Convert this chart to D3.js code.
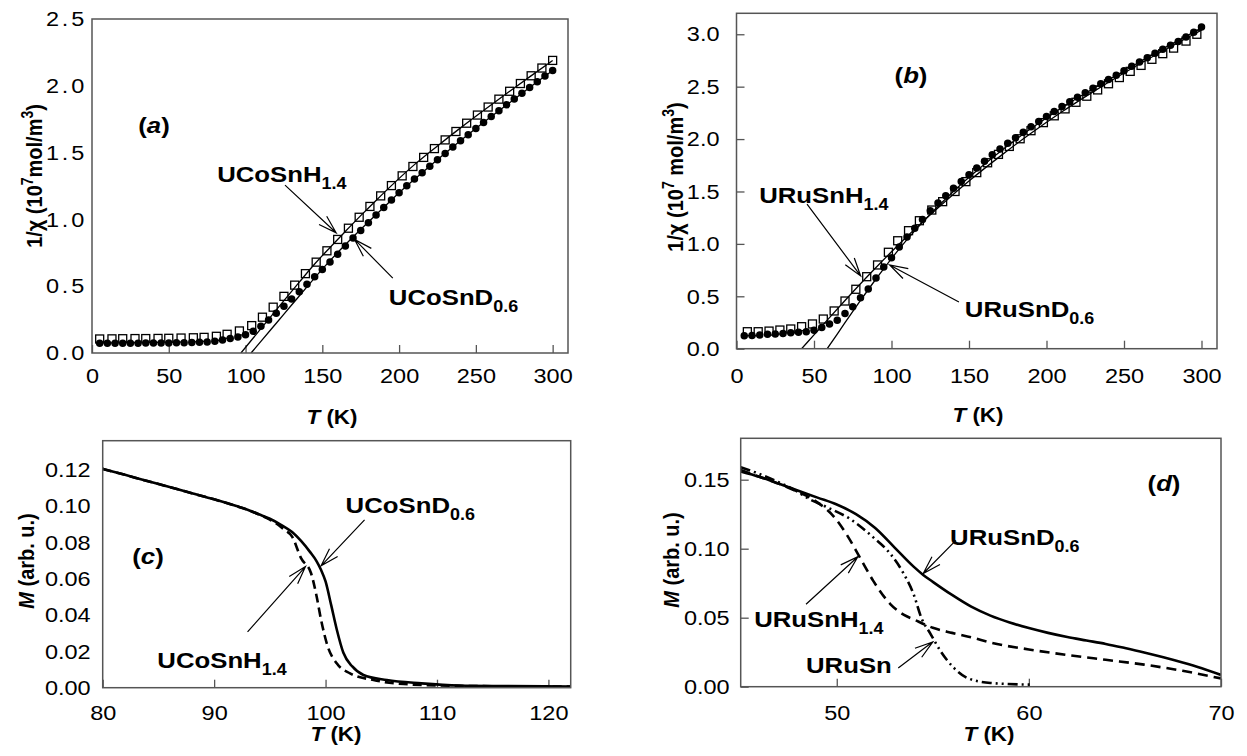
<!DOCTYPE html>
<html>
<head>
<meta charset="utf-8">
<script src="https://cdn.jsdelivr.net/npm/d3@7"></script>
<style>
  body { margin: 0; background: #fff; }
  svg { display: block; }
</style>
</head>
<body>
<div id="chart"></div>
<script>
// ---- panel (a): 1/chi vs T, UCoSn hydride / deuteride ----
const aTempH = [5,13,20,28,35,43,50,58,66,73,81,88,96,104,111,118,125,132,139,146,153,160,167,174,181,188,195,202,209,216,223,230,237,244,251,258,265,272,279,286,293,300];
const aInvChiH = [0.105,0.106,0.107,0.108,0.108,0.109,0.11,0.112,0.114,0.117,0.125,0.14,0.165,0.205,0.268,0.343,0.424,0.508,0.594,0.68,0.765,0.85,0.934,1.016,1.097,1.176,1.253,1.326,1.396,1.464,1.53,1.595,1.658,1.72,1.781,1.841,1.9,1.959,2.017,2.075,2.133,2.19];
const aTempD = [5,10,15,20,25,30,35,40,45,50,55,60,65,70,75,80,85,90,95,100,105,110,115,120,125,130,135,140,145,150,155,160,165,170,175,180,185,190,195,200,205,210,215,220,225,230,235,240,245,250,255,260,265,270,275,280,285,290,295,300];
const aInvChiD = [0.073,0.073,0.073,0.073,0.073,0.073,0.074,0.074,0.074,0.075,0.076,0.077,0.078,0.08,0.083,0.088,0.097,0.108,0.12,0.137,0.162,0.2,0.247,0.298,0.35,0.405,0.459,0.515,0.57,0.625,0.682,0.74,0.8,0.86,0.917,0.974,1.033,1.09,1.146,1.2,1.252,1.302,1.35,1.398,1.446,1.494,1.541,1.588,1.634,1.68,1.725,1.77,1.814,1.858,1.901,1.944,1.987,2.03,2.073,2.115];
const aFitHT = [97,105,115,125,135,145,155,165,175,185,195,210,225,240,255,270,285,300];
const aFitHV = [0,0.112,0.252,0.392,0.53,0.666,0.79,0.91,1.028,1.142,1.253,1.41,1.55,1.685,1.815,1.942,2.067,2.19];
const aFitDT = [103.6,110,120,130,140,150,160,170,180,190,200,215,230,245,260,275,290,300];
const aFitDV = [0,0.087,0.223,0.359,0.495,0.628,0.752,0.868,0.98,1.09,1.2,1.35,1.495,1.635,1.77,1.9,2.03,2.115];

// ---- panel (b): 1/chi vs T, URuSn hydride / deuteride ----
const bTempH = [7,14,21,28,35,42,49,56,63,70,77,84,91,98,104,111,118,126,133,141,148,155,162,169,176,183,190,198,205,212,219,226,233,240,247,254,261,268,275,282,290,297];
const bInvChiH = [0.162,0.162,0.168,0.178,0.188,0.21,0.236,0.283,0.36,0.455,0.567,0.687,0.799,0.92,1.03,1.126,1.221,1.323,1.403,1.5,1.594,1.68,1.774,1.854,1.93,2.003,2.08,2.157,2.222,2.288,2.351,2.409,2.469,2.528,2.587,2.646,2.703,2.761,2.815,2.868,2.935,3.0];
const bTempD = [5,10,15,20,25,30,35,40,45,50,55,60,65,70,75,80,85,90,95,100,105,110,115,120,125,130,135,140,145,150,155,160,165,170,175,180,185,190,195,200,205,210,215,220,225,230,235,240,245,250,255,260,265,270,275,280,285,290,295,300];
const bInvChiD = [0.124,0.126,0.131,0.137,0.14,0.146,0.152,0.156,0.162,0.176,0.202,0.235,0.272,0.335,0.4,0.485,0.57,0.675,0.78,0.868,0.97,1.065,1.15,1.232,1.315,1.39,1.46,1.53,1.595,1.66,1.724,1.788,1.85,1.905,1.96,2.012,2.065,2.118,2.168,2.215,2.262,2.31,2.355,2.4,2.442,2.485,2.527,2.568,2.61,2.652,2.694,2.735,2.776,2.818,2.856,2.894,2.932,2.975,3.02,3.07];
const bFitHT = [42,50,60,70,80,90,100,110,120,135,150,170,190,210,230,250,270,290,300];
const bFitHV = [0,0.132,0.297,0.46,0.62,0.775,0.925,1.07,1.21,1.41,1.6,1.835,2.055,2.26,2.45,2.63,2.8,2.96,3.04];
const bFitDT = [58.5,65,70,80,90,100,110,120,135,150,170,190,210,230,250,270,290,300];
const bFitDV = [0,0.14,0.248,0.46,0.665,0.86,1.04,1.205,1.43,1.635,1.88,2.1,2.3,2.48,2.65,2.82,2.98,3.06];

// ---- panel (c): M vs T, UCoSn compounds ----
const cTempD = [80,82,84,86,88,90,92,93,94,95,96,97,97.8,98.6,99.2,99.6,100,100.5,101,101.6,102.4,103.4,105.5,108.6,112,116,122];
const cMagD = [0.1205,0.1172,0.1138,0.1105,0.1071,0.1037,0.1,0.098,0.0955,0.093,0.0897,0.0857,0.0808,0.0748,0.0696,0.0648,0.0585,0.0456,0.0322,0.0192,0.0117,0.007,0.0042,0.0024,0.0012,0.0009,0.0007];
const cTempH = [80,82,84,86,88,90,92,93,94,95,95.8,96.3,97,97.8,98.7,99.2,99.6,100.2,101,102.2,104.3,107,112,122];
const cMagH = [0.1205,0.1172,0.1138,0.1105,0.1071,0.1037,0.1,0.098,0.0955,0.0925,0.0895,0.087,0.0832,0.0713,0.063,0.0502,0.0373,0.0226,0.0134,0.0079,0.0042,0.002,0.001,0.0006];

// ---- panel (d): M vs T, URuSn compounds ----
const dTempD = [45,46,47,48,49,50,51,52,53,54,54.5,55,56,57,58,59,60,61,62,63,64,65,66,67,68,69,70];
const dMagD = [0.156,0.152,0.147,0.142,0.137,0.132,0.125,0.115,0.101,0.087,0.081,0.076,0.0665,0.058,0.0515,0.0465,0.0425,0.039,0.036,0.0335,0.031,0.028,0.0248,0.0213,0.0175,0.0133,0.0085];
const dTempH = [45,46,47,48,48.6,49.1,49.8,50.5,51.2,51.9,52.8,53.5,54,55,56,57.1,58,60,62,64,66,68,70];
const dMagH = [0.157,0.152,0.147,0.141,0.137,0.1325,0.124,0.1106,0.0937,0.0767,0.0597,0.052,0.0488,0.0427,0.039,0.0354,0.032,0.027,0.023,0.0195,0.016,0.0115,0.006];
const dTempPure = [45,46,47,48,48.4,49.5,50.7,51.9,52.8,53.5,54,54.4,54.9,55.4,56.1,56.8,58,60.1];
const dMagPure = [0.159,0.154,0.148,0.141,0.1373,0.13,0.1215,0.1082,0.0961,0.0815,0.067,0.05,0.0378,0.0258,0.0136,0.0063,0.0027,0.0015];

// annotation anchors in data units: [textT, textV, tailT, tailV, tipT, tipV]
const aNotes = [
  { name: 'UCoSnH', sub: '1.4', at: [81.5, 1.28, 125.7, 1.257, 159, 0.9] },
  { name: 'UCoSnD', sub: '0.6', at: [193.3, 0.36, 195.9, 0.561, 171, 0.85] }
];
const bNotes = [
  { name: 'URuSnH', sub: '1.4', at: [14.6, 1.39, 45.5, 1.38, 80.1, 0.694] },
  { name: 'URuSnD', sub: '0.6', at: [147.3, 0.30, 143.5, 0.445, 98.8, 0.799] }
];
const cNotes = [
  { name: 'UCoSnD', sub: '0.6', at: [101.8, 0.0963, 103.5, 0.0924, 99.6, 0.0671] },
  { name: 'UCoSnH', sub: '1.4', at: [84.9, 0.0109, 93, 0.0307, 98.2, 0.0667] }
];
const dNotes = [
  { name: 'URuSnD', sub: '0.6', at: [55.9, 0.103, 56.2, 0.106, 54.5, 0.082] },
  { name: 'URuSnH', sub: '1.4', at: [45.7, 0.0434, 48.4, 0.0597, 51.1, 0.0942] },
  { name: 'URuSn', sub: '', at: [48.4, 0.01, 53.2, 0.0136, 55, 0.0325] }
];

const FONT = 'Arial, "Liberation Sans", sans-serif';
const AXIS = '#555';
const SX = 1.12; // the original figure is slightly stretched horizontally

const svg = d3.select('#chart').append('svg')
  .attr('width', 1247)
  .attr('height', 756)
  .style('font-family', FONT);

function zip(xs, ys) {
  return xs.map((t, i) => [t, ys[i]]);
}

function stretched(g, px, py) {
  return g.append('text')
    .attr('transform', `translate(${px},${py}) scale(${SX},1)`)
    .attr('fill', '#000');
}

function drawPanel(p) {
  const x = d3.scaleLinear().domain(p.xDomain).range([p.left, p.right]);
  const y = d3.scaleLinear().domain(p.yDomain).range([p.bottom, p.top]);
  const g = svg.append('g');

  // x axis, ticks point into the plot
  const xa = g.append('g')
    .attr('transform', `translate(0,${p.bottom})`)
    .call(d3.axisBottom(x).tickValues(p.xTicks).tickSizeInner(-8).tickSizeOuter(0).tickPadding(p.xPad).tickFormat(d3.format('d')));
  xa.select('.domain').remove();
  xa.selectAll('line').attr('stroke', AXIS).attr('stroke-width', 1.3);
  xa.selectAll('text')
    .attr('font-size', 21).attr('font-family', FONT).attr('fill', '#000')
    .attr('transform', `scale(${SX},1)`);

  // y axis
  const ya = g.append('g')
    .attr('transform', `translate(${p.left},0)`)
    .call(d3.axisLeft(y).tickValues(p.yTicks).tickSizeInner(p.yTickIn ? -8 : 0).tickSizeOuter(0).tickFormat(d3.format(p.yFormat)));
  ya.select('.domain').remove();
  ya.selectAll('line').attr('stroke', AXIS).attr('stroke-width', 1.3);
  ya.selectAll('text')
    .attr('font-size', 21).attr('font-family', FONT).attr('fill', '#000')
    .attr('x', -p.yGap / SX)
    .attr('letter-spacing', p.ySpacing || 0)
    .attr('transform', `scale(${SX},1)`);

  const clipId = 'clip-' + p.id;
  g.append('clipPath').attr('id', clipId)
    .append('rect')
    .attr('x', p.left).attr('y', p.top)
    .attr('width', p.right - p.left).attr('height', p.bottom - p.top);

  const plot = g.append('g').attr('clip-path', `url(#${clipId})`);
  const line = d3.line().x(d => x(d[0])).y(d => y(d[1])).curve(d3.curveMonotoneX);

  (p.markers || []).forEach(s => {
    const pts = zip(s.t, s.v);
    if (s.shape === 'square') {
      plot.selectAll(null).data(pts).enter().append('rect')
        .attr('x', d => x(d[0]) - s.size / 2)
        .attr('y', d => y(d[1]) - s.size / 2)
        .attr('width', s.size).attr('height', s.size)
        .attr('fill', '#fff').attr('stroke', '#000').attr('stroke-width', 1.3);
    } else {
      plot.selectAll(null).data(pts).enter().append('circle')
        .attr('cx', d => x(d[0])).attr('cy', d => y(d[1]))
        .attr('r', s.size / 2)
        .attr('fill', '#000');
    }
  });

  (p.curves || []).forEach(c => {
    plot.append('path')
      .datum(zip(c.t, c.v))
      .attr('d', line)
      .attr('fill', 'none')
      .attr('stroke', '#000')
      .attr('stroke-width', c.width)
      .attr('stroke-dasharray', c.dash || null)
      .attr('stroke-linejoin', 'round');
  });

  // frame
  g.append('rect')
    .attr('x', p.left).attr('y', p.top)
    .attr('width', p.right - p.left).attr('height', p.bottom - p.top)
    .attr('fill', 'none').attr('stroke', AXIS).attr('stroke-width', 1.5);

  // annotations: label, leader line and open arrow head
  p.notes.forEach(n => {
    const [tt, tv, at, av, pt, pv] = n.at;
    const t = stretched(g, x(tt), y(tv))
      .attr('font-size', 23).attr('font-weight', 'bold');
    t.append('tspan').text(n.name);
    if (n.sub) t.append('tspan').attr('font-size', 16).attr('dy', 7).text(n.sub);

    const x0 = x(at), y0 = y(av), x1 = x(pt), y1 = y(pv);
    const ang = Math.atan2(y0 - y1, x0 - x1);
    const len = 19, spread = 0.3;
    const w1 = [x1 + len * Math.cos(ang + spread), y1 + len * Math.sin(ang + spread)];
    const w2 = [x1 + len * Math.cos(ang - spread), y1 + len * Math.sin(ang - spread)];
    g.append('path')
      .attr('d', `M${x0},${y0}L${x1},${y1}M${w1[0]},${w1[1]}L${x1},${y1}L${w2[0]},${w2[1]}`)
      .attr('fill', 'none').attr('stroke', '#000').attr('stroke-width', 1.2);
  });

  // panel letter
  const lt = stretched(g, p.letterPos[0], p.letterPos[1])
    .attr('font-size', 23).attr('font-weight', 'bold').attr('text-anchor', 'middle');
  lt.append('tspan').text('(');
  lt.append('tspan').attr('font-style', 'italic').text(p.letter);
  lt.append('tspan').text(')');

  // x axis title
  const xt = stretched(g, p.xTitlePos[0], p.xTitlePos[1])
    .attr('font-size', 20).attr('font-weight', 'bold').attr('text-anchor', 'middle');
  xt.append('tspan').attr('font-style', 'italic').text('T');
  xt.append('tspan').text(' (K)');

  // y axis title, rotated
  const yt = g.append('text')
    .attr('transform', `translate(${p.yTitlePos[0]},${p.yTitlePos[1]}) scale(${SX},1) rotate(-90)`)
    .attr('font-size', 20).attr('font-weight', 'bold').attr('text-anchor', 'middle')
    .attr('dy', '0.35em').attr('fill', '#000');
  p.yTitle(yt);
}

function chiTitle(spaced) {
  return yt => {
    yt.append('tspan').text('1/χ ' + (spaced ? '' : ' ') + '(10');
    yt.append('tspan').attr('font-size', 14).attr('dy', -8).text('7');
    yt.append('tspan').attr('dy', 8).text(spaced ? ' mol/m' : 'mol/m');
    yt.append('tspan').attr('font-size', 14).attr('dy', -8).text('3');
    yt.append('tspan').attr('dy', 8).text(')');
  };
}

function magTitle(yt) {
  yt.append('tspan').attr('font-style', 'italic').text('M');
  yt.append('tspan').text(' (arb. u.)');
}

drawPanel({
  id: 'a', left: 92, top: 19, right: 568, bottom: 353,
  xDomain: [0, 310], yDomain: [0, 2.5],
  xTicks: [0, 50, 100, 150, 200, 250, 300], yTicks: [0, 0.5, 1, 1.5, 2, 2.5],
  yFormat: '.1f', xPad: 15, yGap: 5, ySpacing: 2.5, yTickIn: false,
  markers: [
    { shape: 'square', t: aTempH, v: aInvChiH, size: 8 },
    { shape: 'circle', t: aTempD, v: aInvChiD, size: 7.5 }
  ],
  curves: [
    { t: aFitHT, v: aFitHV, width: 1.3 },
    { t: aFitDT, v: aFitDV, width: 1.3 }
  ],
  notes: aNotes,
  letter: 'a', letterPos: [154, 133],
  xTitlePos: [332, 424],
  yTitlePos: [34, 176], yTitle: chiTitle(false)
});

drawPanel({
  id: 'b', left: 736.5, top: 13.3, right: 1217, bottom: 348.7,
  xDomain: [0, 310], yDomain: [0, 3.2],
  xTicks: [0, 50, 100, 150, 200, 250, 300], yTicks: [0, 0.5, 1, 1.5, 2, 2.5, 3],
  yFormat: '.1f', xPad: 19, yGap: 17, yTickIn: true,
  markers: [
    { shape: 'square', t: bTempH, v: bInvChiH, size: 8 },
    { shape: 'circle', t: bTempD, v: bInvChiD, size: 7.5 }
  ],
  curves: [
    { t: bFitHT, v: bFitHV, width: 1.3 },
    { t: bFitDT, v: bFitDV, width: 1.3 }
  ],
  notes: bNotes,
  letter: 'b', letterPos: [911, 83],
  xTitlePos: [978, 422],
  yTitlePos: [675, 177], yTitle: chiTitle(true)
});

drawPanel({
  id: 'c', left: 102.7, top: 440.7, right: 570.7, bottom: 687.7,
  xDomain: [80, 122], yDomain: [0, 0.136],
  xTicks: [80, 90, 100, 110, 120], yTicks: [0, 0.02, 0.04, 0.06, 0.08, 0.1, 0.12],
  yFormat: '.2f', xPad: 17, yGap: 12, yTickIn: false,
  curves: [
    { t: cTempD, v: cMagD, width: 2.6 },
    { t: cTempH, v: cMagH, width: 2.6, dash: '9,5' }
  ],
  notes: cNotes,
  letter: 'c', letterPos: [148, 564],
  xTitlePos: [336, 741],
  yTitlePos: [26, 561], yTitle: magTitle
});

drawPanel({
  id: 'd', left: 740.7, top: 438.3, right: 1221, bottom: 686.7,
  xDomain: [45, 70], yDomain: [0, 0.18],
  xTicks: [50, 60, 70], yTicks: [0, 0.05, 0.1, 0.15],
  yFormat: '.2f', xPad: 18, yGap: 11, yTickIn: true,
  curves: [
    { t: dTempD, v: dMagD, width: 2.6 },
    { t: dTempH, v: dMagH, width: 2.6, dash: '10,6' },
    { t: dTempPure, v: dMagPure, width: 2.6, dash: '10,4,2,4,2,4' }
  ],
  notes: dNotes,
  letter: 'd', letterPos: [1164, 491],
  xTitlePos: [989, 741],
  yTitlePos: [671, 560], yTitle: magTitle
});
</script>
</body>
</html>
